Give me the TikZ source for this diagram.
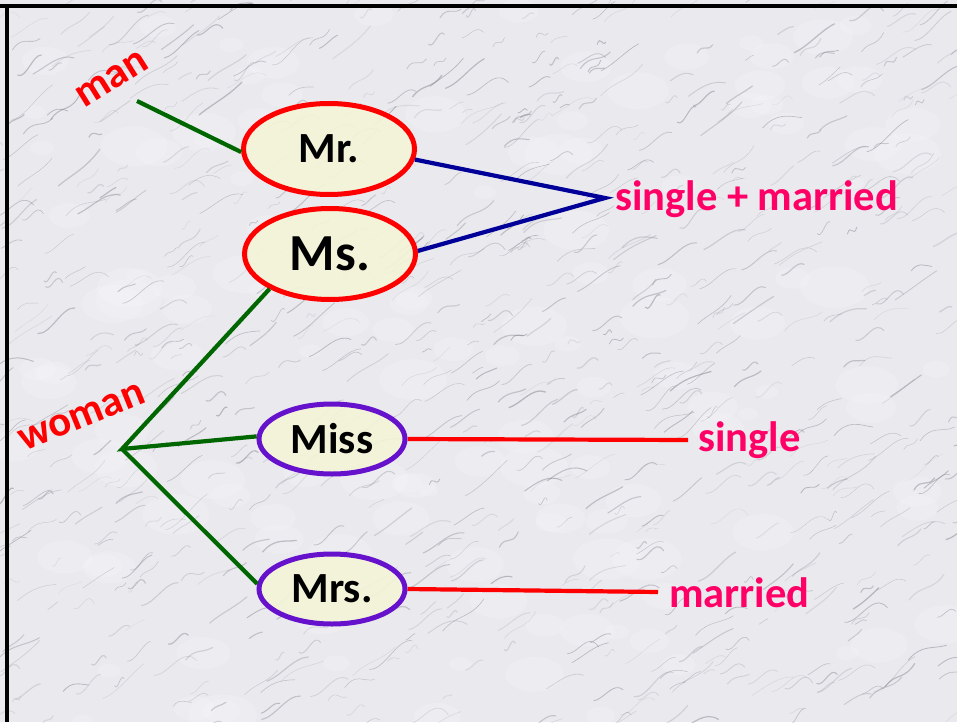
\documentclass[tikz,border=0pt]{standalone}
\usepackage{fontspec}
\setmainfont{Carlito}
\usetikzlibrary{shapes.geometric}
\definecolor{marblebg}{HTML}{E9E9EE}
\definecolor{vein}{HTML}{7C7C88}
\definecolor{ovalfill}{HTML}{F4F4D8}
\definecolor{pinktxt}{HTML}{FF0066}
\definecolor{darkgreen}{HTML}{006600}
\definecolor{navyline}{HTML}{000099}
\definecolor{violet}{HTML}{6611CC}
\tikzset{
  oval/.style={ellipse, line width=5pt, fill=ovalfill, fill opacity=0.92, text opacity=1,
               font=\fontsize{43}{49}\selectfont\bfseries, inner sep=0pt},
  redoval/.style={oval, draw=red},
  violetoval/.style={oval, draw=violet},
  small/.style={minimum width=146, minimum height=70},
  big/.style={minimum width=171, minimum height=91},
  pinklabel/.style={text=pinktxt, font=\fontsize{42.5}{48}\selectfont\bfseries, inner sep=0pt},
  redlabel/.style={text=red, font=\fontsize{42.5}{48}\selectfont\bfseries, inner sep=0pt},
  greenline/.style={draw=darkgreen, line width=4.2pt},
  blueline/.style={draw=navyline, line width=4.2pt},
  redline/.style={draw=red, line width=4.2pt}
}
\begin{document}
\begin{tikzpicture}[x=1pt,y=-1pt]
\useasboundingbox (0,0) rectangle (957,722);
% marble background
\fill[marblebg] (0,0) rectangle (957,722);
\begin{scope}
\clip (0,0) rectangle (957,722);
\pgfmathsetseed{5}
\foreach \i in {1,...,140}{
  \pgfmathsetmacro{\px}{rnd*957}
  \pgfmathsetmacro{\py}{rnd*722}
  \pgfmathsetmacro{\rr}{10+rnd*25}
  \fill[white, opacity=0.18] (\px,\py) ellipse ({\rr pt} and {0.6*\rr pt});
}
\pgfmathsetseed{11}
\foreach \i in {1,...,900}{
  \pgfmathsetmacro{\px}{rnd*1000-20}
  \pgfmathsetmacro{\py}{rnd*760-20}
  \pgfmathsetmacro{\len}{8+rnd*35}
  \pgfmathsetmacro{\bend}{rnd*20-10}
  \pgfmathsetmacro{\dy}{0.2+rnd*0.7}
  \pgfmathsetmacro{\lw}{0.3+rnd*1.0}
  \pgfmathsetmacro{\op}{0.12+rnd*0.35}
  \draw[vein, line width=\lw pt, opacity=\op, line cap=round]
    (\px,\py) .. controls ({\px+0.35*\len},{\py-0.2*\len+\bend}) and ({\px+0.65*\len},{\py-0.5*\len-\bend}) .. ({\px+\len},{\py-\dy*\len});
}
\end{scope}
% frame (top and left)
\fill[black] (0,4.5) rectangle (957,8.5);
\fill[black] (4.5,4.5) rectangle (8.5,722);

% ovals
\node[redoval, big] (mr) at (329,149) {Mr.};
\node[redoval, big, font=\fontsize{52}{58}\selectfont\bfseries] (ms) at (330,254) {Ms.};
\node[violetoval, small] (miss) at (332,439) {Miss};
\node[violetoval, small] (mrs) at (332,589) {Mrs.};

% labels
\node[redlabel, rotate=32] (man) at (112,79) {man};
\node[redlabel, rotate=22] (woman) at (82,417) {woman};
\node[pinklabel, anchor=west] (sm) at (615,199) {single + married};
\node[pinklabel, anchor=west] (single) at (698,440) {single};
\node[pinklabel, anchor=west] (married) at (669,593) {married};

% connector points
\coordinate (manend) at (137,101);
\coordinate (hub) at (122,449);
\coordinate (smhub) at (605,198);
\coordinate (singleend) at (688,440);
\coordinate (marriedend) at (658,592);

% connectors
\draw[greenline] (manend) -- (mr.182);
\draw[greenline] (ms.210) -- (hub) -- (miss.178);
\draw[greenline] (hub) -- (mrs.176);
\draw[blueline] (mr.-7) -- (smhub) -- (ms.2);
\draw[redline] (miss.east) -- (singleend);
\draw[redline] (mrs.east) -- (marriedend);
\end{tikzpicture}
\end{document}
